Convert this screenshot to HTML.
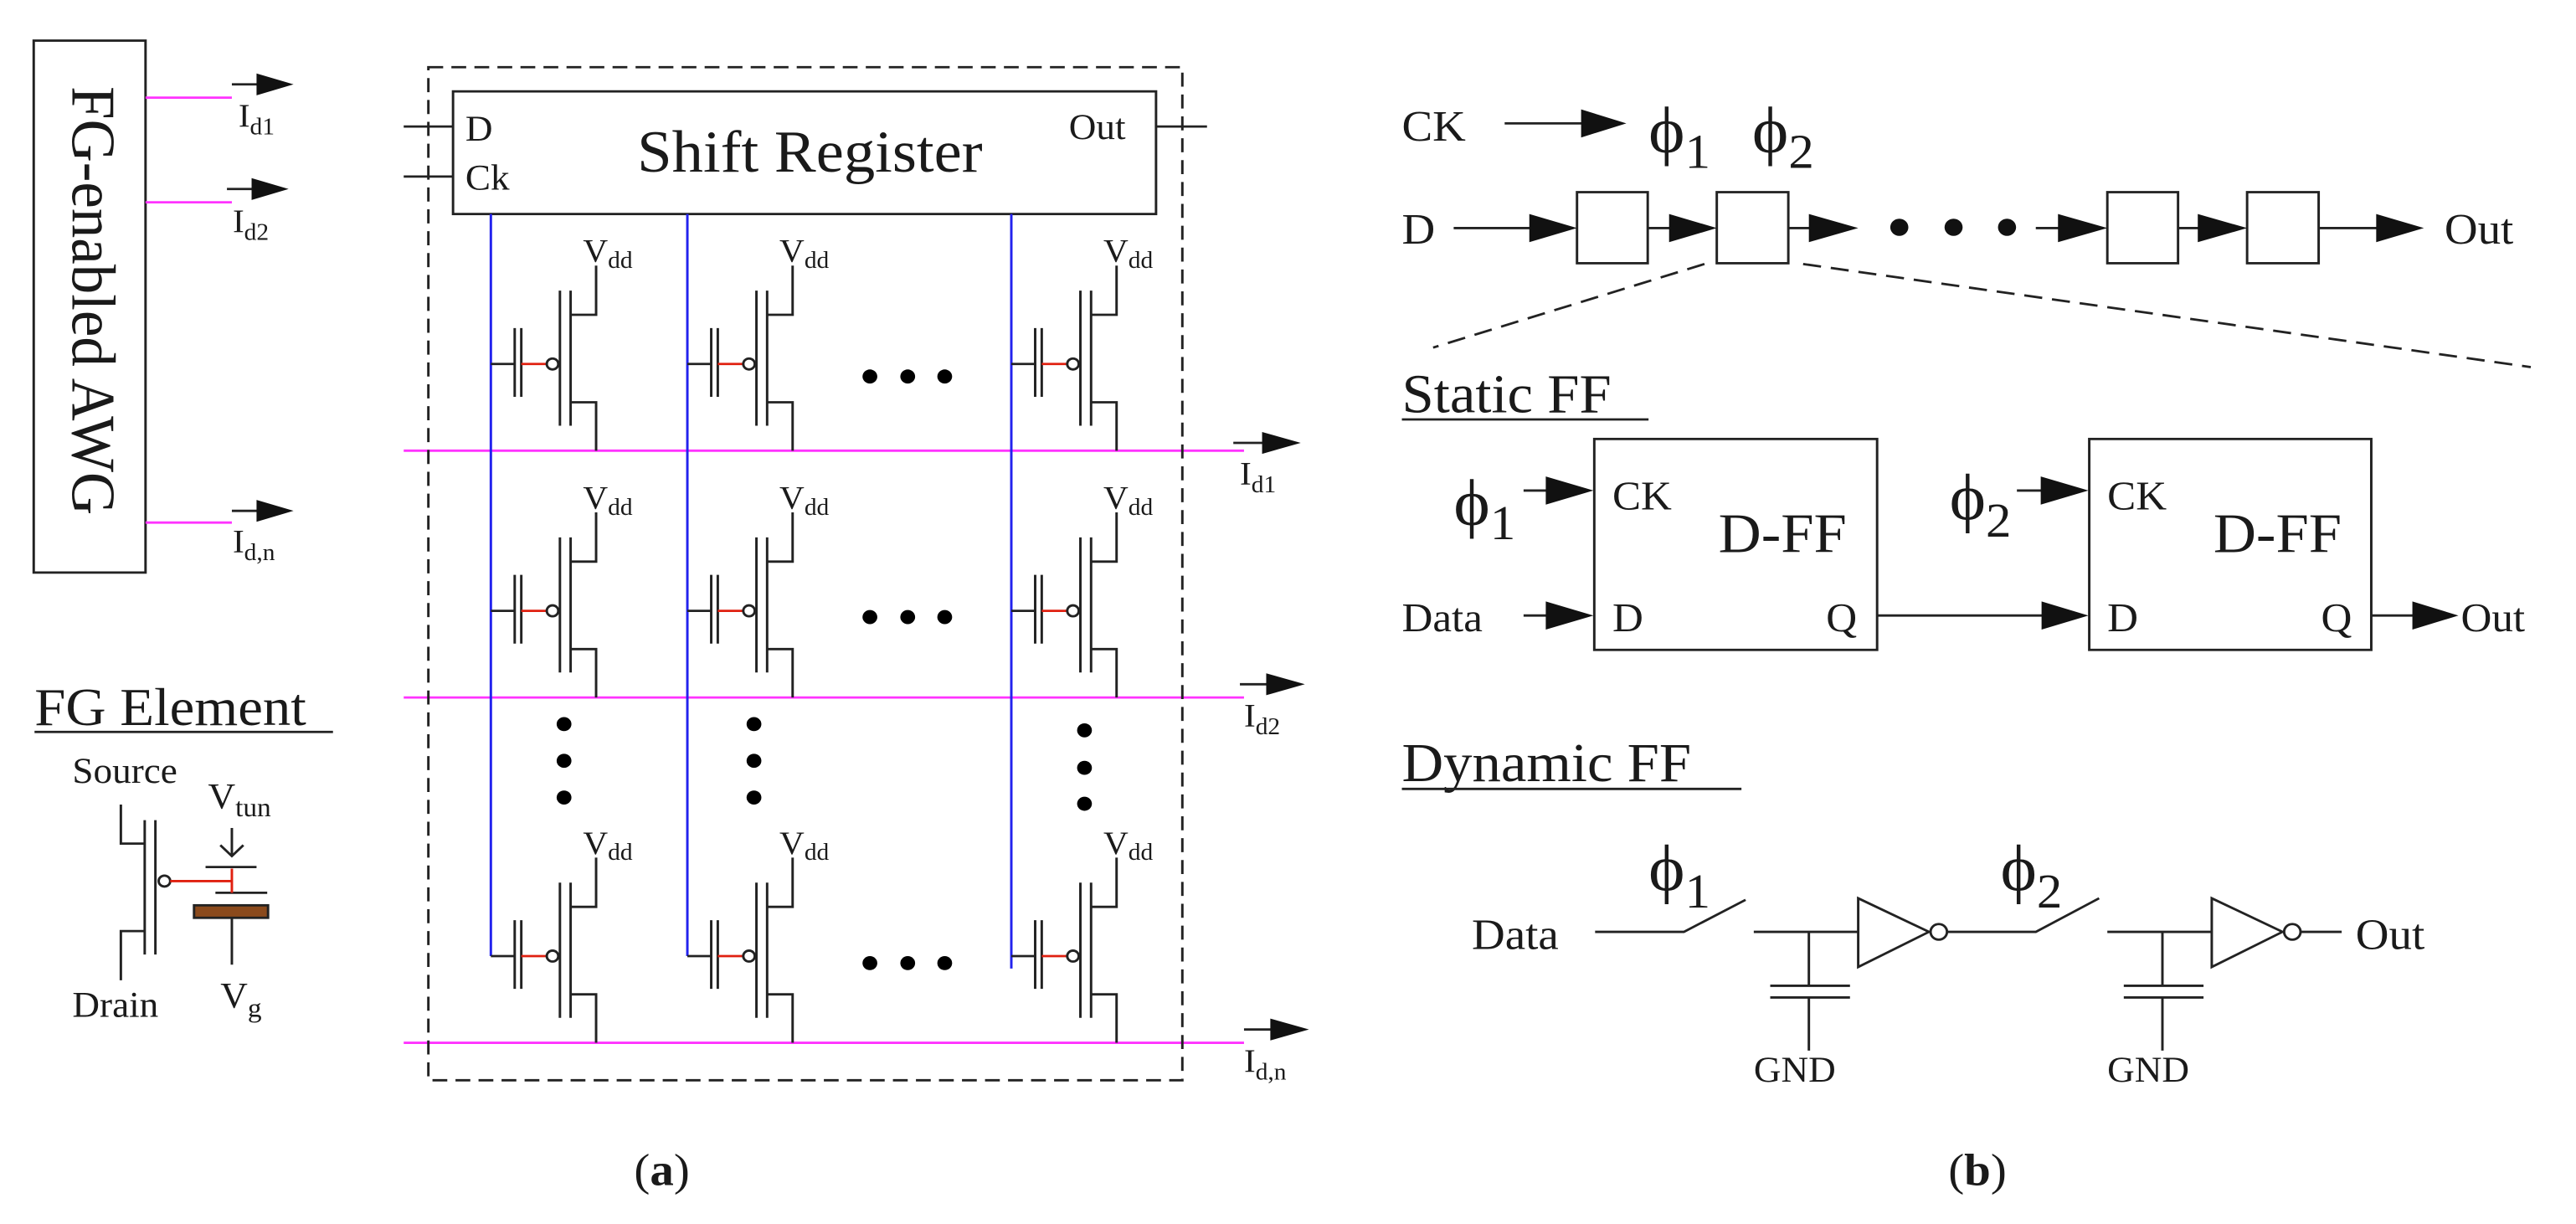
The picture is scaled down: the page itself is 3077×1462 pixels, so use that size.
<!DOCTYPE html>
<html><head><meta charset="utf-8"><style>html,body{margin:0;padding:0;background:#fff}svg{display:block}</style></head>
<body>
<svg width="3077" height="1462" viewBox="0 0 3133 1567" preserveAspectRatio="none" xmlns="http://www.w3.org/2000/svg" font-family="'Liberation Serif', serif" fill="#1a1a1a">
<defs>
<g id="cell" fill="none" stroke-width="3">
<line x1="0" y1="0" x2="29" y2="0" stroke="#222"/>
<line x1="29" y1="-46" x2="29" y2="42" stroke="#222"/>
<line x1="37" y1="-46" x2="37" y2="42" stroke="#222"/>
<line x1="37" y1="0" x2="68" y2="0" stroke="#e02010"/>
<circle cx="75" cy="0" r="7" stroke="#222"/>
<line x1="84" y1="-94" x2="84" y2="79" stroke="#222"/>
<line x1="97" y1="-94" x2="97" y2="79" stroke="#222"/>
<polyline points="97,-63 128,-63 128,-126" stroke="#222"/>
<polyline points="97,49 128,49 128,111" stroke="#222"/>
<text x="112" y="-131" font-size="42" fill="#1a1a1a" stroke="none">V<tspan font-size="30" dy="8">dd</tspan></text>
</g>
</defs>
<rect width="3133" height="1567" fill="#fff"/>

<!-- AWG -->
<rect x="41" y="52" width="136" height="681" fill="none" stroke="#222" stroke-width="3"/>
<text transform="translate(88,385) rotate(90)" text-anchor="middle" font-size="76">FG-enabled AWG</text>
<g stroke="#ff33ff" stroke-width="3">
<line x1="177" y1="125" x2="282" y2="125"/><line x1="177" y1="259" x2="282" y2="259"/><line x1="177" y1="669" x2="282" y2="669"/>
<line x1="491" y1="577" x2="1513" y2="577"/><line x1="491" y1="893" x2="1513" y2="893"/><line x1="491" y1="1335" x2="1513" y2="1335"/>
</g>
<g stroke="#222" stroke-width="3">
<line x1="282" y1="108" x2="320" y2="108"/><line x1="276" y1="242" x2="315" y2="242"/><line x1="282" y1="654" x2="320" y2="654"/>
<line x1="1500" y1="567" x2="1540" y2="567"/><line x1="1508" y1="876" x2="1545" y2="876"/><line x1="1513" y1="1318" x2="1550" y2="1318"/>
</g>
<g fill="#111">
<polygon points="312,94 357,108 312,122"/><polygon points="306,228 351,242 306,256"/><polygon points="312,640 357,654 312,668"/>
<polygon points="1535,553 1582,567 1535,581"/><polygon points="1540,862 1587,876 1540,890"/><polygon points="1545,1304 1592,1318 1545,1332"/>
</g>
<g font-size="42">
<text x="290" y="162">I<tspan font-size="30" dy="10">d1</tspan></text>
<text x="283" y="297">I<tspan font-size="30" dy="10">d2</tspan></text>
<text x="283" y="707">I<tspan font-size="30" dy="10">d,n</tspan></text>
<text x="1508" y="620">I<tspan font-size="30" dy="10">d1</tspan></text>
<text x="1513" y="930">I<tspan font-size="30" dy="10">d2</tspan></text>
<text x="1513" y="1372">I<tspan font-size="30" dy="10">d,n</tspan></text>
</g>

<!-- dashed box & shift register -->
<rect x="521" y="86" width="917" height="1297" fill="none" stroke="#222" stroke-width="3" stroke-dasharray="18,10"/>
<rect x="551" y="117" width="855" height="157" fill="#fff" stroke="#222" stroke-width="3"/>
<text x="985" y="220" text-anchor="middle" font-size="76">Shift Register</text>
<text x="566" y="180" font-size="46">D</text><text x="566" y="243" font-size="46">Ck</text><text x="1300" y="178" font-size="46">Out</text>
<g stroke="#222" stroke-width="3">
<line x1="491" y1="162" x2="551" y2="162"/><line x1="491" y1="226" x2="551" y2="226"/><line x1="1406" y1="162" x2="1468" y2="162"/>
</g>
<g stroke="#2222ee" stroke-width="3">
<line x1="597" y1="274" x2="597" y2="1224"/><line x1="836" y1="274" x2="836" y2="1224"/><line x1="1230" y1="274" x2="1230" y2="1240"/>
</g>
<use href="#cell" x="597" y="466"/><use href="#cell" x="836" y="466"/><use href="#cell" x="1230" y="466"/>
<use href="#cell" x="597" y="782"/><use href="#cell" x="836" y="782"/><use href="#cell" x="1230" y="782"/>
<use href="#cell" x="597" y="1224"/><use href="#cell" x="836" y="1224"/><use href="#cell" x="1230" y="1224"/>
<g fill="#000">
<circle cx="1058" cy="482" r="9"/><circle cx="1104" cy="482" r="9"/><circle cx="1149" cy="482" r="9"/>
<circle cx="1058" cy="790" r="9"/><circle cx="1104" cy="790" r="9"/><circle cx="1149" cy="790" r="9"/>
<circle cx="1058" cy="1233" r="9"/><circle cx="1104" cy="1233" r="9"/><circle cx="1149" cy="1233" r="9"/>
<circle cx="686" cy="927" r="9"/><circle cx="686" cy="974" r="9"/><circle cx="686" cy="1021" r="9"/>
<circle cx="917" cy="927" r="9"/><circle cx="917" cy="974" r="9"/><circle cx="917" cy="1021" r="9"/>
<circle cx="1319" cy="935" r="9"/><circle cx="1319" cy="983" r="9"/><circle cx="1319" cy="1029" r="9"/>
</g>

<!-- FG element -->
<text x="42" y="928" font-size="68">FG Element</text>
<line x1="42" y1="937" x2="405" y2="937" stroke="#222" stroke-width="3"/>
<text x="88" y="1002" font-size="46">Source</text>
<text x="88" y="1302" font-size="46">Drain</text>
<text x="253" y="1035" font-size="46">V<tspan font-size="34" dy="10">tun</tspan></text>
<text x="268" y="1290" font-size="46">V<tspan font-size="34" dy="12">g</tspan></text>
<g fill="none" stroke="#222" stroke-width="3">
<polyline points="147,1030 147,1080 176,1080"/>
<polyline points="147,1255 147,1192 176,1192"/>
<line x1="176" y1="1050" x2="176" y2="1222"/><line x1="189" y1="1050" x2="189" y2="1222"/>
<circle cx="200" cy="1128" r="7"/>
<line x1="250" y1="1110" x2="312" y2="1110"/><line x1="262" y1="1143" x2="325" y2="1143"/>
<line x1="282" y1="1175" x2="282" y2="1235"/>
<line x1="282" y1="1060" x2="282" y2="1096"/>
<polyline points="268,1082 282,1096 296,1082"/>
</g>
<g stroke="#e02010" stroke-width="3"><line x1="207" y1="1128" x2="282" y2="1128"/><line x1="282" y1="1112" x2="282" y2="1143"/></g>
<rect x="236" y="1159" width="90" height="16" fill="#8b4a1c" stroke="#222" stroke-width="3"/>
<text x="805" y="1517" text-anchor="middle" font-size="58">(<tspan font-weight="bold">a</tspan>)</text>

<!-- right side -->
<g transform="translate(1568,0)">
<g font-size="56">
<text x="137" y="180">CK</text><text x="137" y="312">D</text><text x="1405" y="312">Out</text>
</g>
<text x="437" y="195" font-size="84">ϕ<tspan font-size="62" dy="20">1</tspan></text>
<text x="563" y="195" font-size="84">ϕ<tspan font-size="62" dy="20">2</tspan></text>
<g stroke="#222" stroke-width="3" fill="none">
<line x1="262" y1="158" x2="360" y2="158"/>
<line x1="200" y1="292" x2="300" y2="292"/><line x1="436" y1="292" x2="470" y2="292"/><line x1="607" y1="292" x2="640" y2="292"/>
<line x1="908" y1="292" x2="945" y2="292"/><line x1="1081" y1="292" x2="1115" y2="292"/><line x1="1252" y1="292" x2="1330" y2="292"/>
<rect x="350" y="246" width="86" height="91"/><rect x="520" y="246" width="87" height="91"/>
<rect x="995" y="246" width="86" height="91"/><rect x="1165" y="246" width="87" height="91"/>
<line x1="505" y1="338" x2="175" y2="445" stroke-dasharray="22,12"/>
<line x1="625" y1="338" x2="1510" y2="470" stroke-dasharray="22,12"/>
</g>
<g fill="#111">
<polygon points="355,140 410,158 355,176"/>
<polygon points="292,274 350,292 292,310"/><polygon points="462,274 520,292 462,310"/><polygon points="632,274 692,292 632,310"/>
<polygon points="935,274 995,292 935,310"/><polygon points="1105,274 1165,292 1105,310"/><polygon points="1322,274 1380,292 1322,310"/>
<circle cx="742" cy="291" r="11"/><circle cx="808" cy="291" r="11"/><circle cx="873" cy="291" r="11"/>
</g>

<text x="137" y="528" font-size="70">Static FF</text>
<line x1="137" y1="537" x2="437" y2="537" stroke="#222" stroke-width="3"/>
<g fill="none" stroke="#222" stroke-width="3">
<rect x="371" y="562" width="344" height="270"/><rect x="973" y="562" width="343" height="270"/>
<line x1="285" y1="628" x2="320" y2="628"/><line x1="285" y1="788" x2="320" y2="788"/>
<line x1="885" y1="628" x2="920" y2="628"/><line x1="715" y1="788" x2="925" y2="788"/><line x1="1316" y1="788" x2="1375" y2="788"/>
</g>
<g fill="#111">
<polygon points="312,610 370,628 312,646"/><polygon points="312,770 370,788 312,806"/>
<polygon points="914,610 972,628 914,646"/><polygon points="915,770 972,788 915,806"/><polygon points="1366,770 1422,788 1366,806"/>
</g>
<text x="200" y="672" font-size="84">ϕ<tspan font-size="62" dy="18">1</tspan></text>
<text x="803" y="665" font-size="84">ϕ<tspan font-size="62" dy="22">2</tspan></text>
<g font-size="52">
<text x="393" y="652">CK</text><text x="393" y="808">D</text><text x="653" y="808">Q</text>
<text x="995" y="652">CK</text><text x="995" y="808">D</text><text x="1255" y="808">Q</text>
<text x="137" y="808">Data</text><text x="1425" y="808">Out</text>
</g>
<text x="522" y="707" font-size="72">D-FF</text><text x="1124" y="707" font-size="72">D-FF</text>

<text x="137" y="1000" font-size="70">Dynamic FF</text>
<line x1="137" y1="1010" x2="550" y2="1010" stroke="#222" stroke-width="3"/>
<text x="222" y="1215" font-size="56">Data</text>
<text x="1297" y="1215" font-size="56">Out</text>
<text x="437" y="1140" font-size="84">ϕ<tspan font-size="62" dy="22">1</tspan></text>
<text x="865" y="1140" font-size="84">ϕ<tspan font-size="62" dy="22">2</tspan></text>
<g fill="none" stroke="#222" stroke-width="3">
<polyline points="372,1193 480,1193 555,1152"/>
<line x1="565" y1="1193" x2="692" y2="1193"/>
<line x1="632" y1="1193" x2="632" y2="1262"/><line x1="585" y1="1262" x2="682" y2="1262"/><line x1="585" y1="1277" x2="682" y2="1277"/><line x1="632" y1="1277" x2="632" y2="1345"/>
<polygon points="692,1150 692,1238 778,1193"/><circle cx="790" cy="1193" r="10"/>
<polyline points="800,1193 908,1193 985,1150"/>
<line x1="995" y1="1193" x2="1122" y2="1193"/>
<line x1="1062" y1="1193" x2="1062" y2="1262"/><line x1="1015" y1="1262" x2="1112" y2="1262"/><line x1="1015" y1="1277" x2="1112" y2="1277"/><line x1="1062" y1="1277" x2="1062" y2="1345"/>
<polygon points="1122,1150 1122,1238 1208,1193"/><circle cx="1220" cy="1193" r="10"/>
<line x1="1230" y1="1193" x2="1280" y2="1193"/>
</g>
<text x="565" y="1385" font-size="46">GND</text><text x="995" y="1385" font-size="46">GND</text>
<text x="837" y="1517" text-anchor="middle" font-size="58">(<tspan font-weight="bold">b</tspan>)</text>
</g>
</svg>
</body></html>
